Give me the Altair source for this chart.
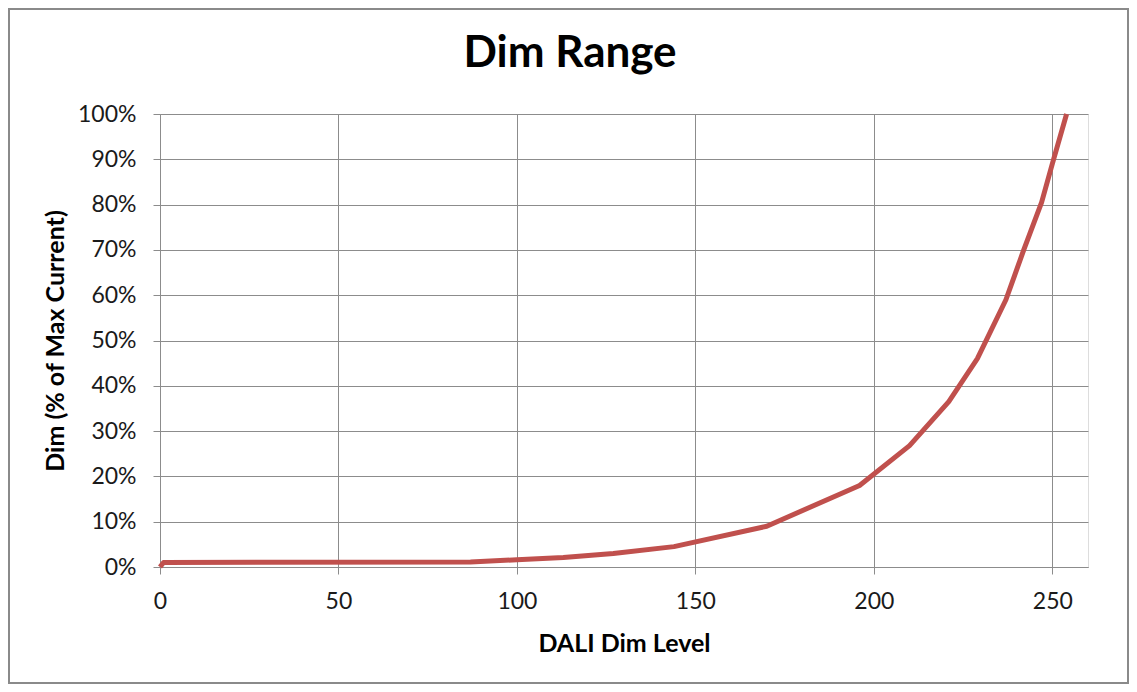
import altair as alt
import pandas as pd

# DALI dim level vs. dim (% of max current)
levels = [0, 1, 87, 100, 113, 127, 144, 170, 196, 210, 221, 229, 237, 242, 247, 250, 254]
dim_pct = [0, 1.0, 1.1, 1.6, 2.1, 3.0, 4.5, 9.0, 18.0, 26.8, 36.5, 46.0, 59.0, 70.0, 80.5, 89.0, 100.0]

x_ticks = [0, 50, 100, 150, 200, 250]
y_ticks = [0, 10, 20, 30, 40, 50, 60, 70, 80, 90, 100]

df = pd.DataFrame({"level": levels, "dim": dim_pct})

FONT = "Lato"
GRID = "#8c8c8c"

line = alt.Chart(df).mark_line(color="#C0504D", strokeWidth=5, strokeCap="butt", strokeJoin="round").encode(
    x=alt.X(
        "level:Q",
        scale=alt.Scale(domain=[0, 260], nice=False, zero=False),
        axis=alt.Axis(
            values=x_ticks,
            title="DALI Dim Level",
            grid=True,
            gridColor=GRID,
            gridWidth=1,
            domainColor=GRID,
            domainWidth=1,
            tickColor=GRID,
            tickSize=7,
            labelFlush=False,
            labelPadding=16,
            labelFont=FONT,
            labelFontSize=23,
            labelColor="#1a1a1a",
            titleFont=FONT,
            titleFontSize=25,
            titleFontWeight="bold",
            titleColor="#000000",
            titlePadding=18,
        ),
    ),
    y=alt.Y(
        "dim:Q",
        scale=alt.Scale(domain=[0, 100], nice=False),
        axis=alt.Axis(
            values=y_ticks,
            labelExpr="datum.value + '%'",
            title="Dim (% of Max Current)",
            grid=True,
            gridColor=GRID,
            gridWidth=1,
            domainColor=GRID,
            domainWidth=1,
            tickColor=GRID,
            tickSize=7,
            labelFlush=False,
            labelPadding=17,
            labelFont=FONT,
            labelFontSize=23,
            labelColor="#1a1a1a",
            titleFont=FONT,
            titleFontSize=25,
            titleFontWeight="bold",
            titleColor="#000000",
            titlePadding=9,
        ),
    ),
)

frame = alt.Chart(pd.DataFrame({"f": [0]})).mark_rect(
    fill="transparent", stroke="#8a8a8a", strokeWidth=2
).encode(
    x=alt.value(-151), x2=alt.value(968), y=alt.value(-105), y2=alt.value(569)
)

chart = alt.layer(frame, line).properties(
    width=928,
    height=453,
    padding={"left": 152, "top": 106, "right": 41, "bottom": 117},
    autosize=alt.AutoSizeParams(type="none"),
    title=alt.TitleParams(
        "Dim Range",
        font=FONT,
        fontSize=44,
        fontWeight="bold",
        color="#000000",
        anchor="middle",
        dx=-54,
        offset=-68,
    ),
).configure_view(stroke=None).configure(background="white")

chart.save("out.html", embed_options={"renderer": "svg", "actions": False})
